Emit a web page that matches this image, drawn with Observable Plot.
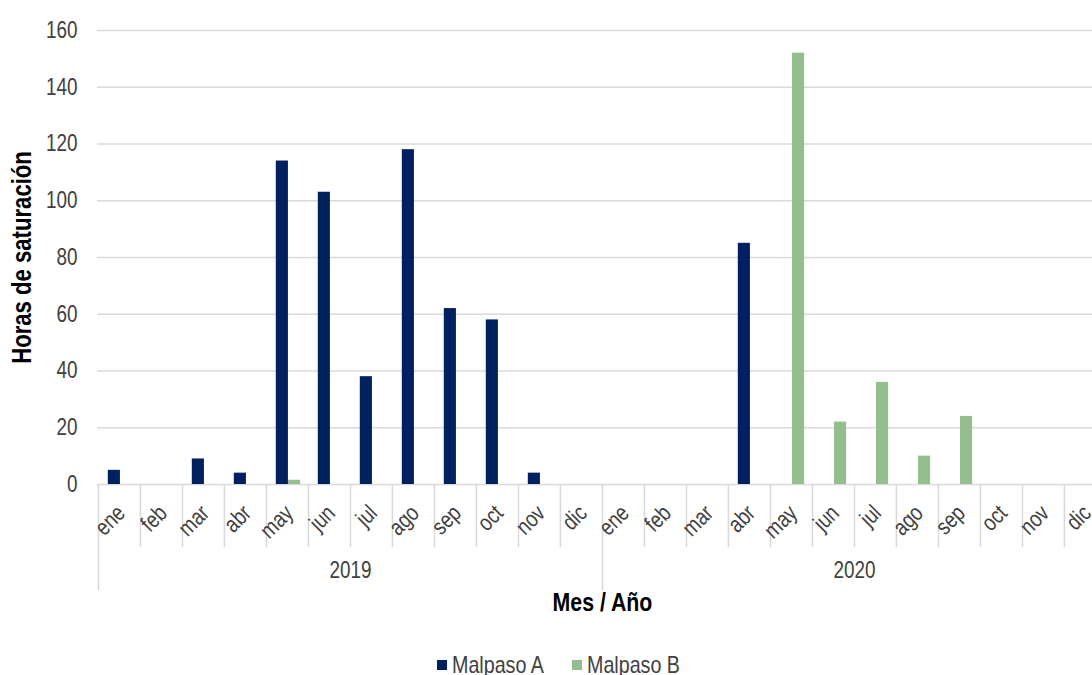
<!DOCTYPE html>
<html>
<head>
<meta charset="utf-8">
<script src="https://cdn.jsdelivr.net/npm/d3@7"></script>
<script src="https://cdn.jsdelivr.net/npm/@observablehq/plot@0.6"></script>
<style>
  html, body { margin: 0; padding: 0; background: #fff; }
  #chart svg { display: block; }
  .legend { height: 25px; position: relative; font-family: "Liberation Sans", Arial, sans-serif; font-size: 24px; color: #404040; }
  .legend .item { position: absolute; top: 1px; display: flex; align-items: center; white-space: nowrap; }
  .legend .sw { width: 10px; height: 10px; margin-right: 5px; }
  .legend .tx { display: inline-block; transform: scaleX(0.82); transform-origin: left center; }
</style>
</head>
<body>
<div id="chart"></div>
<div class="legend" id="legend"></div>
<script>
const months = ["ene","feb","mar","abr","may","jun","jul","ago","sep","oct","nov","dic"];
const years = ["2019","2020"];
const seriesNames = ["Malpaso A","Malpaso B"];
const seriesColors = ["#002060","#95be8e"];
const malpasoA = [5,0,9,4,114,103,38,118,62,58,4,0, 0,0,0,85,0,0,0,0,0,0,0,0];
const malpasoB = [0,0,0,0,1.5,0,0,0,0,0,0,0, 0,0,0,0,152,22,36,10,24,0,0,0];
const yTicks = [0,20,40,60,80,100,120,140,160];

const keys = years.flatMap(y => months.map(m => y + "-" + m));
const rows = keys.map((k, i) => ({key: k, year: k.slice(0,4), month: k.slice(5), a: malpasoA[i], b: malpasoB[i]}));

const bw = 1010 / keys.length;
const font = '"Liberation Sans", Arial, sans-serif';

const chart = Plot.plot({
  width: 1092,
  height: 650,
  marginLeft: 97,
  marginRight: 0,
  marginTop: 30,
  marginBottom: 166,
  style: {fontFamily: font, fontSize: "23px", color: "#404040", background: "#fff"},
  x: {type: "band", domain: keys, range: [97, 1107], padding: 0, axis: null},
  y: {domain: [0, 160], axis: null},
  marks: [
    Plot.gridY(yTicks, {stroke: "#d9d9d9", strokeOpacity: 1, strokeWidth: 1.5}),
    Plot.axisY(yTicks, {tickSize: 0, tickPadding: 20, label: null, color: "#404040", fontSize: 23}),
    Plot.ruleX(rows, {x: "key", dx: -bw / 2, y1: 0, y2: d => d.month === "ene" ? -37.5 : -22.3, stroke: "#d9d9d9", strokeWidth: 1.5}),
    Plot.barY(rows, {x: "key", y: "a", fill: seriesColors[0], insetLeft: 9.8, insetRight: bw - 22}),
    Plot.barY(rows, {x: "key", y: "b", fill: seriesColors[1], insetLeft: 22, insetRight: bw - 34.2}),
    Plot.text(rows, {x: "key", text: "month", frameAnchor: "bottom", dy: 30, dx: 7, rotate: -45, textAnchor: "end", fill: "#404040", fontSize: 23}),
    Plot.text(rows.filter(d => d.month === "jul"), {x: "key", text: "year", dx: -bw / 2, frameAnchor: "bottom", dy: 93, fill: "#404040", fontSize: 23}),
    Plot.text(["Mes / Año"], {x: () => keys[12], text: d => d, dx: -bw / 2, frameAnchor: "bottom", dy: 126, fill: "#000", fontSize: 26, fontWeight: "bold"}),
    Plot.text(["Horas de saturación"], {text: d => d, frameAnchor: "left", textAnchor: "middle", dx: -75, rotate: -90, fill: "#000", fontSize: 27, fontWeight: "bold"})
  ]
});
// emulate the narrow typeface of the reference (horizontal squeeze of each text)
d3.select(chart).selectAll("text").each(function () {
  const t = d3.select(this);
  const xa = t.attr("x"), ya = t.attr("y");
  const xn = xa != null && xa !== "" && !isNaN(+xa);
  const yn = ya != null && ya !== "" && !isNaN(+ya);
  const x = xn ? +xa : 0, y = yn ? +ya : 0;
  if (xn) t.attr("x", null);
  if (yn) t.attr("y", null);
  const tr = t.attr("transform") || "";
  t.attr("transform", `${tr} translate(${x},${y}) scale(0.82,1)`);
});
document.getElementById("chart").appendChild(chart);

const legend = document.getElementById("legend");
const lefts = [437, 572];
seriesNames.forEach((name, i) => {
  const it = document.createElement("div");
  it.className = "item";
  it.style.left = lefts[i] + "px";
  const sw = document.createElement("span");
  sw.className = "sw";
  sw.style.background = seriesColors[i];
  const tx = document.createElement("span");
  tx.className = "tx";
  tx.textContent = name;
  it.appendChild(sw);
  it.appendChild(tx);
  legend.appendChild(it);
});
</script>
</body>
</html>
